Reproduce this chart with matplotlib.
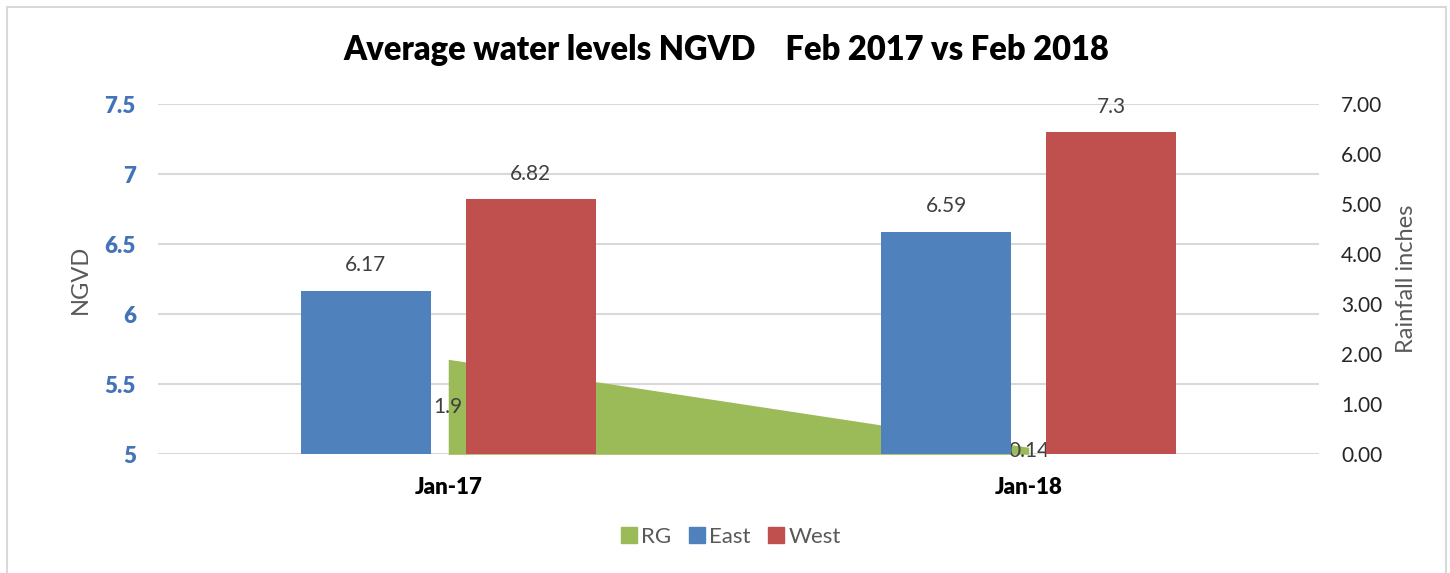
import numpy as np
import matplotlib.pyplot as plt
from matplotlib.patches import Rectangle

# -----------------------------
# Data
# -----------------------------
categories = ["Jan-17", "Jan-18"]
east = [6.17, 6.59]
west = [6.82, 7.3]
rg = [1.9, 0.14]          # rainfall, right axis

left_ticks = [5, 5.5, 6, 6.5, 7, 7.5]
right_ticks = [0, 1, 2, 3, 4, 5, 6, 7]

BLUE = "#4F81BD"
TICKBLUE = "#4374B7"
RED = "#C0504D"
GREEN = "#9BBB59"
GRID = "#D9D9D9"
GREY = "#595959"
LABEL = "#404040"

plt.rcParams["font.family"] = ["Lato", "DejaVu Sans"]

fig = plt.figure(figsize=(14.5, 5.73), dpi=100)
# base axes: gridlines + left ticks; ax2: rainfall area; ax3: bars on top
ax = fig.add_axes([158 / 1450, 1 - 454.3 / 573, (1319 - 158) / 1450, 350 / 573])
ax2 = ax.twinx()
ax3 = ax.twinx()
ax2.patch.set_visible(False)
ax3.patch.set_visible(False)

x = np.arange(len(categories))
w = 0.224
off = 0.142

ax2.fill_between(x, rg, 0, color=GREEN, linewidth=0)
for xi, v in zip(x, rg):
    ax2.text(xi, v / 2, f"{v:g}", ha="center", va="center", fontsize=15, color=LABEL)

ax3.bar(x - off, np.array(east) - 5, w, bottom=5, color=BLUE)
ax3.bar(x + off, np.array(west) - 5, w, bottom=5, color=RED)
for xs, vals in ((x - off, east), (x + off, west)):
    for xi, v in zip(xs, vals):
        ax3.annotate(f"{v:g}", (xi, v), xytext=(0, 18.5), textcoords="offset points",
                     ha="center", va="center", fontsize=15, color=LABEL)

ax.set_xlim(-0.5, 1.5)
ax.set_ylim(5, 7.5)
ax3.set_ylim(5, 7.5)
ax2.set_ylim(0, 7)

ax.set_yticks(left_ticks)
ax.set_yticklabels([f"{t:g}" for t in left_ticks], fontsize=16, fontweight="heavy", color=TICKBLUE)
ax2.set_yticks(right_ticks)
ax2.set_yticklabels([f"{t:.2f}" for t in right_ticks], fontsize=15, color="#262626")
ax3.set_yticks([])
ax.set_xticks(x)
ax.set_xticklabels(categories, fontsize=16, fontweight="heavy", color="black")

ax.tick_params(axis="y", length=0, pad=16)
ax2.tick_params(axis="y", length=0, pad=16)
ax.tick_params(axis="x", length=0, pad=16)

ax.grid(axis="y", color=GRID, linewidth=1.5)
ax.set_axisbelow(True)
for a in (ax, ax2, ax3):
    for s in a.spines.values():
        s.set_visible(False)

ax.set_ylabel("NGVD", fontsize=17, color=GREY, labelpad=10)
ax2.set_ylabel("Rainfall inches", fontsize=17, color=GREY, labelpad=10)

fig.text(726 / 1450, 1 - 50 / 573, "Average water levels NGVD    Feb 2017 vs Feb 2018",
         ha="center", va="center", fontsize=23.5, fontweight="heavy", color="black")

handles = [Rectangle((0, 0), 1, 1, color=c) for c in (GREEN, BLUE, RED)]
leg = fig.legend(handles, ["RG", "East", "West"], loc="center", ncol=3,
                 bbox_to_anchor=(731 / 1450, 1 - 537 / 573), frameon=False,
                 fontsize=16, handlelength=0.7, handleheight=0.7,
                 handletextpad=0.2, columnspacing=0.8)
for t in leg.get_texts():
    t.set_color(GREY)

# chart border
fig.patches.append(Rectangle((7 / 1450, -0.01), (1446 - 7) / 1450, 1.01 - 7 / 573,
                             transform=fig.transFigure, fill=False,
                             edgecolor=GRID, linewidth=1.5))

fig.savefig("out.png", dpi=100)
